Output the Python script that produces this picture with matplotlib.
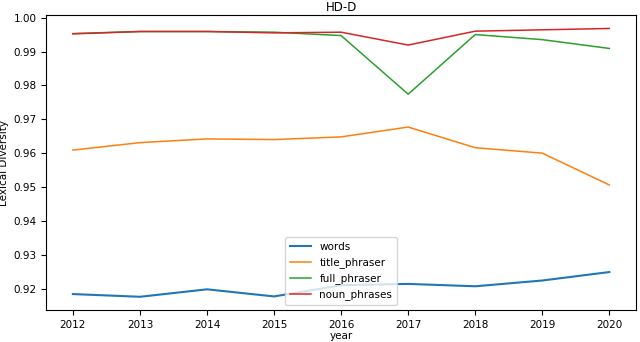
import matplotlib
matplotlib.use("Agg")
import matplotlib.pyplot as plt

years = [2012, 2013, 2014, 2015, 2016, 2017, 2018, 2019, 2020]
words = [0.9184, 0.9176, 0.9198, 0.9177, 0.9210, 0.9214, 0.9207, 0.9224, 0.9249]
title_phraser = [0.9609, 0.9631, 0.9642, 0.9640, 0.9648, 0.9677, 0.9616, 0.9600, 0.9506]
full_phraser = [0.9953, 0.9959, 0.9959, 0.9957, 0.9947, 0.9774, 0.9950, 0.9935, 0.9909]
noun_phrases = [0.9952, 0.9959, 0.9959, 0.9955, 0.9957, 0.9919, 0.9960, 0.9964, 0.9968]

plt.rcParams['font.size'] = 7.5

fig, ax = plt.subplots(figsize=(6.4, 3.42), dpi=100)
ax.plot(years, words, color='#1f77b4', lw=1.5, label='words')
ax.plot(years, title_phraser, color='#ff7f0e', lw=1.1, label='title_phraser')
ax.plot(years, full_phraser, color='#2ca02c', lw=1.1, label='full_phraser')
ax.plot(years, noun_phrases, color='#d62728', lw=1.1, label='noun_phrases')

ax.set_title("HD-D", fontsize=8.5, pad=3)
ax.set_xlabel("year", labelpad=1)
ax.set_ylabel("Lexical Diversity", labelpad=3)
ax.legend(loc='lower center', fontsize=7.5, handlelength=2.0, borderpad=0.45, labelspacing=0.5)

fig.subplots_adjust(left=0.072, right=0.994, top=0.956, bottom=0.093)
fig.savefig("out.png", dpi=100)
